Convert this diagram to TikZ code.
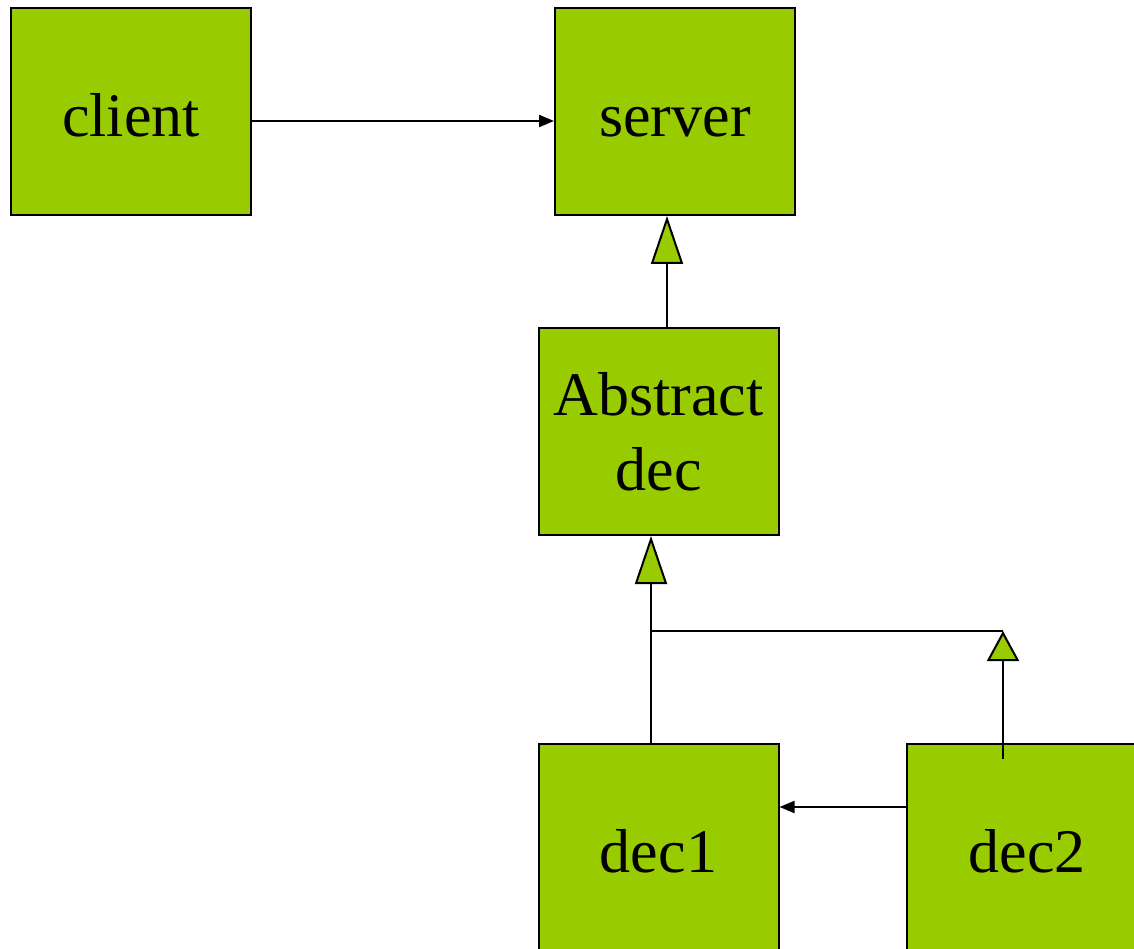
\documentclass[tikz,border=0pt]{standalone}
\usepackage{fontspec}
\setmainfont{Liberation Serif}
\usetikzlibrary{arrows.meta}
\definecolor{boxgreen}{HTML}{99CC00}
\tikzset{
  cls/.style={draw=black, fill=boxgreen, line width=2pt, minimum width=240pt, minimum height=207pt, inner sep=0pt, align=center, font=\fontsize{62}{75}\selectfont},
  one/.style={text height=50pt, text depth=0pt},
  assoc/.style={line width=2pt, -{Triangle[length=15pt,width=12pt]}},
  inherit/.style={line width=2pt, -{Triangle[length=48pt,width=32pt,fill=boxgreen]}},
  inheritsmall/.style={line width=2pt, -{Triangle[length=30pt,width=32pt,fill=boxgreen]}},
  plain/.style={line width=2pt}
}
\begin{document}
\begin{tikzpicture}[x=1pt,y=-1pt]
\useasboundingbox (0,0) rectangle (1134,949);
\clip (0,0) rectangle (1134,949);
\node[cls,one] (client) at (131,111.5) {client};
\node[cls,one] (server) at (675,111.5) {server};
\node[cls] (abs) at (658.5,431.5) {Abstract\\dec};
\node[cls,one] (dec1) at (658.5,847.5) {dec1};
\node[cls,one] (dec2) at (1027,847.5) {dec2};
\draw[assoc] ([yshift=-9.5pt]client.east) -- ([yshift=-9.5pt]server.west);
\draw[inherit] ([xshift=8.5pt]abs.north) -- ([xshift=-8pt]server.south);
\draw[inherit] ([xshift=-7.5pt]dec1.north) -- ([xshift=-7.5pt]abs.south);
\coordinate (j1) at ([xshift=-7.5pt]dec1.north |- 0,631);
\coordinate (j2) at ([xshift=-24pt]dec2.north |- 0,631);
\coordinate (d2top) at ([xshift=-24pt,yshift=-16pt]dec2.north);
\draw[plain] (j1) -- (j2);
\draw[inheritsmall] (d2top) -- (j2);
\draw[assoc] ([yshift=40.5pt]dec2.west) -- (dec1.east |- 0,807);
\end{tikzpicture}
\end{document}
